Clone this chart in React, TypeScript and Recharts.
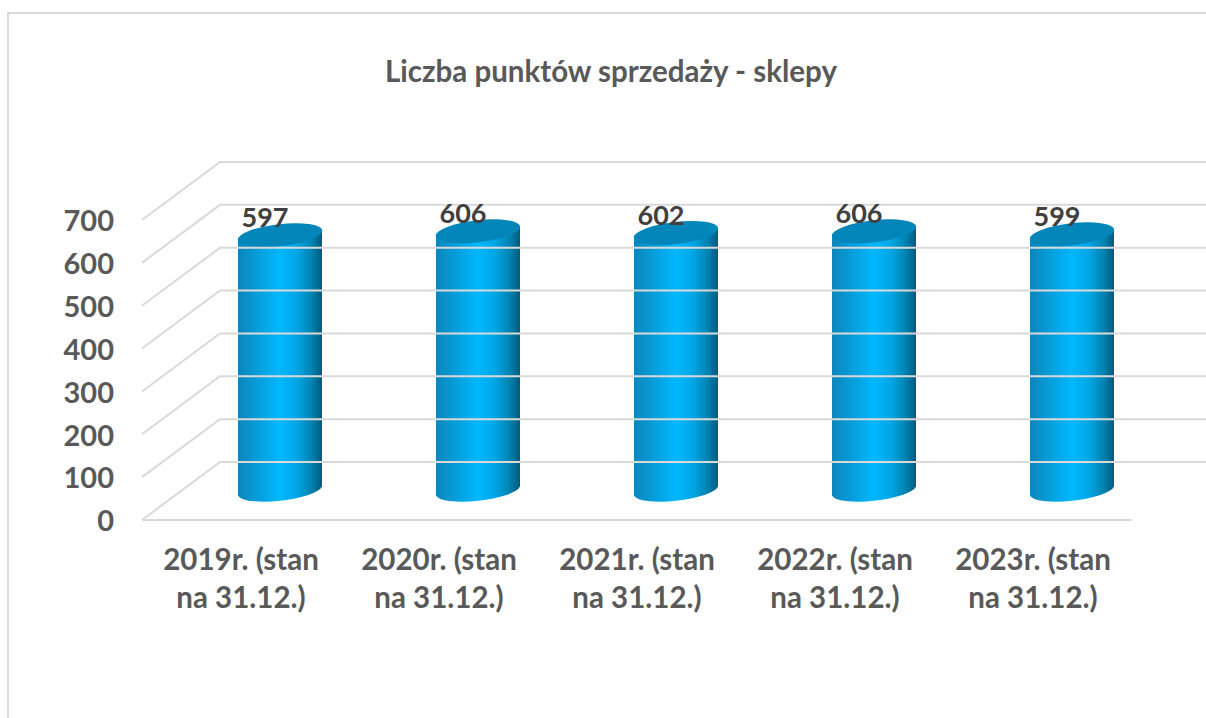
import React from 'react';
import { BarChart, Bar, XAxis, YAxis, ReferenceLine, LabelList } from 'recharts';

const categories = [
  '2019r. (stan na 31.12.)',
  '2020r. (stan na 31.12.)',
  '2021r. (stan na 31.12.)',
  '2022r. (stan na 31.12.)',
  '2023r. (stan na 31.12.)',
];
const shops = [597, 606, 602, 606, 599];
const yTicks = [0, 100, 200, 300, 400, 500, 600, 700];

const data = categories.map((name, i) => ({ name, shops: shops[i] }));

const FONT = 'Lato, "Open Sans", sans-serif';
const DEPTH_X = 78;
const DEPTH_Y = 58;

// the bars stand half way into the floor
const Cylinder = (props: any) => {
  const { x, y, width, height } = props;
  const cx = x + width / 2 + DEPTH_X / 2;
  const top = y - DEPTH_Y / 2;
  const bottom = y + height - DEPTH_Y / 2;
  const r = width / 2;
  const tilt = 4.5;
  const rx = r + 0.5;
  const ry = 11;
  const body = `M ${cx - r} ${top + tilt} L ${cx - r} ${bottom + tilt} A ${rx} ${ry} -6.5 0 0 ${cx + r} ${bottom - tilt} L ${cx + r} ${top - tilt} Z`;
  return (
    <g>
      <path d={body} fill="url(#cyl)" />
      <ellipse cx={cx} cy={top} rx={rx} ry={ry} fill="#0286ba" transform={`rotate(-6.5 ${cx} ${top})`} />
    </g>
  );
};

// floor diagonal plus the back wall line for one gridline
const WallLine = (props: any) => {
  const { x1, x2, y1 } = props;
  if (x1 === undefined) return null;
  const backY = y1 - DEPTH_Y;
  return (
    <polyline
      points={`${x1},${y1} ${x1 + DEPTH_X},${backY} ${x2 + 80},${backY}`}
      fill="none"
      stroke="#d9d9d9"
      strokeWidth={2}
    />
  );
};

const CategoryTick = (props: any) => {
  const { x, y, payload } = props;
  const cut = payload.value.indexOf(' na ');
  return (
    <text x={x} y={y} textAnchor="middle" fontFamily={FONT} fontWeight={700} fontSize={29.5} fill="#595959">
      <tspan x={x} dy={42}>{payload.value.slice(0, cut)}</tspan>
      <tspan x={x} dy={38}>{payload.value.slice(cut + 1)}</tspan>
    </text>
  );
};

const ValueLabel = (props: any) => {
  const { x, y, width, value } = props;
  return (
    <text
      x={x + width / 2 + 24}
      y={y - DEPTH_Y / 2 - 8}
      textAnchor="middle"
      fontFamily={FONT}
      fontWeight={700}
      fontSize={27}
      fill="#404040"
    >
      {value}
    </text>
  );
};

export default function App() {
  return (
    <div style={{ position: 'absolute', left: 0, top: 0, width: 1206, height: 718, overflow: 'hidden', background: '#fff' }}>
      <div style={{ position: 'absolute', left: 7, top: 12, right: 0, bottom: 0, borderLeft: '2px solid #d9d9d9', borderTop: '2px solid #d9d9d9' }} />
      <div
        style={{
          position: 'absolute',
          left: 385,
          top: 53,
          fontFamily: FONT,
          fontWeight: 700,
          fontSize: 29.5,
          color: '#595959',
          whiteSpace: 'nowrap',
        }}
      >
        Liczba punktów sprzedaży - sklepy
      </div>
      <BarChart
        width={1206}
        height={718}
        data={data}
        margin={{ top: 220, right: 74, bottom: 138, left: 82 }}
        style={{ position: 'absolute', left: 0, top: 0 }}
      >
        <defs>
          <linearGradient id="cyl" x1="0" y1="0" x2="1" y2="0">
            <stop offset="0" stopColor="#0c86bb" />
            <stop offset="0.5" stopColor="#00b8fe" />
            <stop offset="0.7" stopColor="#00a6e6" />
            <stop offset="0.88" stopColor="#0082b0" />
            <stop offset="1" stopColor="#00597c" />
          </linearGradient>
        </defs>
        <XAxis
          dataKey="name"
          height={60}
          interval={0}
          axisLine={{ stroke: '#d9d9d9', strokeWidth: 2 }}
          tickLine={false}
          tick={<CategoryTick />}
        />
        <YAxis
          width={60}
          domain={[0, 700]}
          ticks={yTicks}
          axisLine={false}
          tickLine={false}
          tickMargin={22}
          tick={{ fontFamily: FONT, fontWeight: 700, fontSize: 29, fill: '#595959', dy: 1 }}
        />
        {yTicks.map((t) => (
          <ReferenceLine key={t} y={t} shape={<WallLine />} />
        ))}
        <Bar dataKey="shops" barSize={84} isAnimationActive={false} shape={<Cylinder />}>
          <LabelList dataKey="shops" content={<ValueLabel />} />
        </Bar>
      </BarChart>
    </div>
  );
}
